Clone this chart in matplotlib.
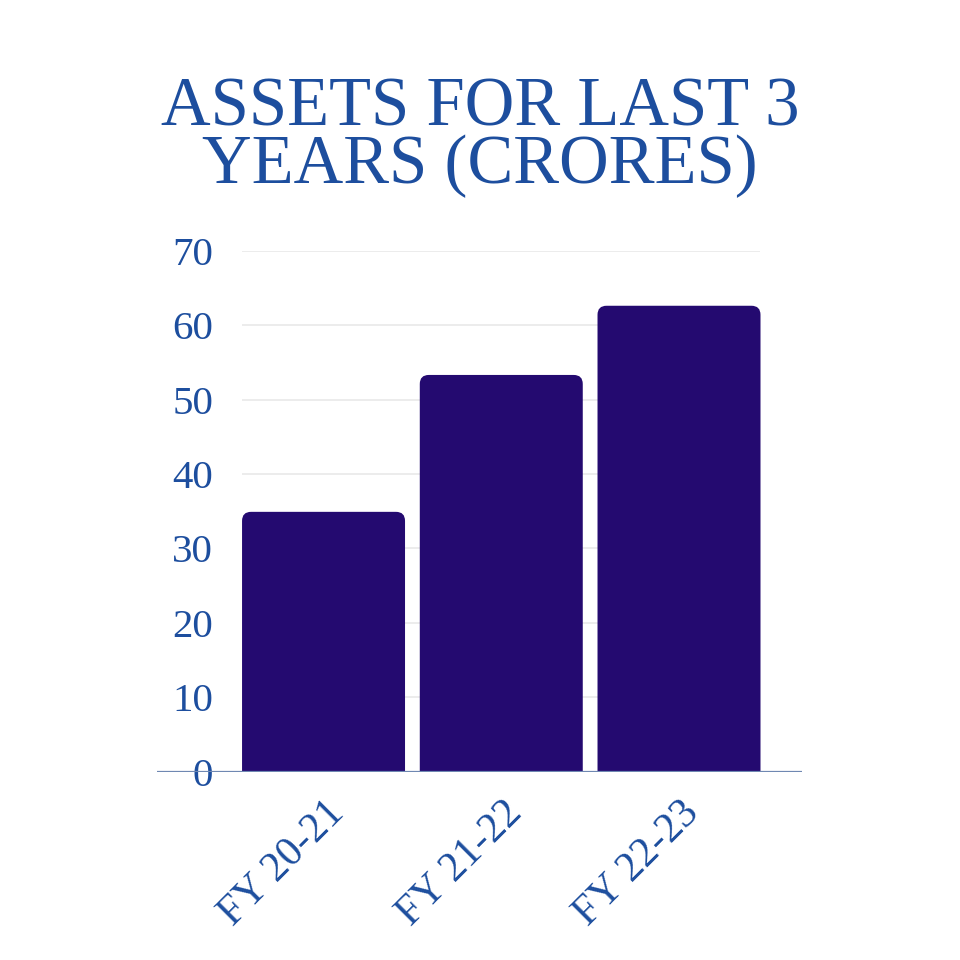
import matplotlib
matplotlib.use("Agg")
import matplotlib.pyplot as plt
from matplotlib.patches import FancyBboxPatch
from matplotlib.transforms import ScaledTranslation

categories = ["FY 20-21", "FY 21-22", "FY 22-23"]
assets = [34.9, 53.3, 62.6]
y_ticks = [0, 10, 20, 30, 40, 50, 60, 70]
title_lines = ["ASSETS FOR LAST 3", "YEARS (CRORES)"]

BAR = "#240a70"
TXT = "#1d4e9e"
GRID = "#ebebeb"
AXIS = "#6f88b2"
FONT = "Liberation Serif"

W = H = 960
fig = plt.figure(figsize=(9.6, 9.6), dpi=100)
fig.patch.set_facecolor("white")

left, right = 157, 802
top, bottom = 250.7, 771.5
ax = fig.add_axes([left / W, 1 - bottom / H, (right - left) / W, (bottom - top) / H])
ax.set_facecolor("none")

x = list(range(len(categories)))
width = 0.917
ax.set_xlim(-0.937, 2.692)
ax.set_ylim(0, 70)

# gridlines across bar span
for t in y_ticks[1:]:
    ax.hlines(t, -width / 2, len(categories) - 1 + width / 2, color=GRID, lw=1.3, zorder=0)

bars = ax.bar(x, assets, width=width, color=BAR, zorder=2)
# rounded top corners: replace each rectangle with a rounded box extending below 0 (clipped)
px_x = (right - left) / (2.692 + 0.937)
px_y = (bottom - top) / 70
r = 9 / px_x
for b in bars:
    bx, by = b.get_x(), b.get_y()
    bw, bh = b.get_width(), b.get_height()
    b.set_visible(False)
    p = FancyBboxPatch((bx, by - 3), bw, bh + 3,
                       boxstyle=f"round,pad=0,rounding_size={r}",
                       mutation_aspect=px_x / px_y,
                       facecolor=BAR, edgecolor="none", zorder=2)
    ax.add_patch(p)

ax.axhline(0, color=AXIS, lw=1.6, zorder=3)

for s in ax.spines.values():
    s.set_visible(False)

ax.set_yticks(y_ticks)
ax.set_yticklabels([str(t) for t in y_ticks])
ax.tick_params(axis="y", length=0, pad=-(213 - left) * 72 / 100, labelsize=29.5, labelcolor=TXT)
for lab in ax.get_yticklabels():
    lab.set_fontfamily(FONT)
    lab.set_zorder(4)

ax.set_xticks(x)
ax.set_xticklabels(categories, rotation=45, ha="right", va="top", rotation_mode="anchor")
ax.tick_params(axis="x", length=0, pad=0, labelsize=30, labelcolor=TXT)
off = ScaledTranslation(1 / 100, -22 / 100, fig.dpi_scale_trans)
for lab in ax.get_xticklabels():
    lab.set_fontfamily(FONT)
    lab.set_transform(lab.get_transform() + off)

fig.text(0.5, 1 - 183 / H, "\n".join(title_lines), ha="center", va="baseline",
         multialignment="center", linespacing=0.87,
         fontsize=49.5, color=TXT, family=FONT)

fig.savefig("out.png", dpi=100, facecolor="white")
